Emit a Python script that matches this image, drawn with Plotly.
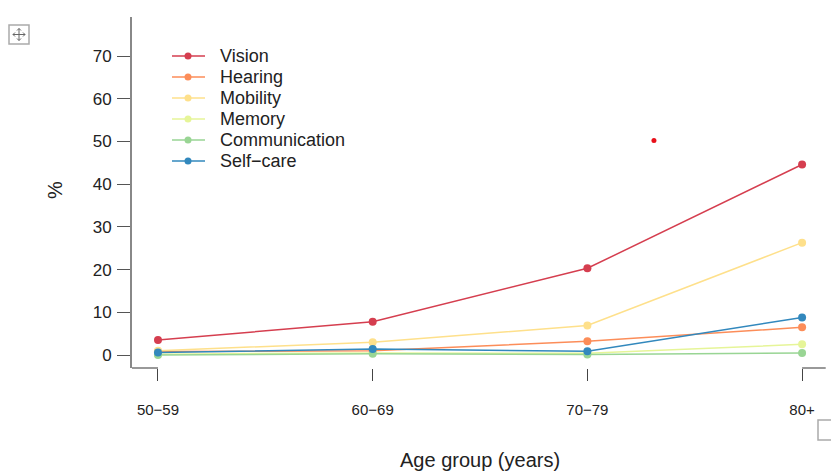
import plotly.graph_objects as go

categories = ["50\u221259", "60\u221269", "70\u221279", "80+"]
vision = [3.5, 7.8, 20.3, 44.6]
hearing = [0.8, 1.0, 3.2, 6.5]
mobility = [1.0, 3.0, 6.9, 26.3]
memory = [0.2, 0.5, 0.4, 2.5]
communication = [0.0, 0.3, 0.1, 0.5]
selfcare = [0.6, 1.4, 0.9, 8.8]
yticks = [0, 10, 20, 30, 40, 50, 60, 70]
stray_x = [2.31]
stray_y = [50.2]

series = [
    ("Vision", vision, "#d53e4f"),
    ("Hearing", hearing, "#fc8d59"),
    ("Mobility", mobility, "#fee08b"),
    ("Memory", memory, "#e6f598"),
    ("Communication", communication, "#99d594"),
    ("Self\u2212care", selfcare, "#3288bd"),
]

# plot area in pixels
L, R, T, B = 132, 830, 17, 368
W, H = R - L, B - T


def px(x):
    return (x - L) / W


def py(y):
    return (B - y) / H


xpos = list(range(len(categories)))
fig = go.Figure()
for name, vals, col in series:
    fig.add_trace(go.Scatter(x=xpos, y=vals, name=name, mode="lines+markers",
                             line=dict(color=col, width=1.5),
                             marker=dict(color=col, size=8), showlegend=False))
fig.add_trace(go.Scatter(x=stray_x, y=stray_y, mode="markers", showlegend=False,
                         marker=dict(color="#e8101a", size=5)))


def pline(x0, y0, x1, y1, col, w):
    return dict(type="line", xref="paper", yref="paper",
                x0=px(x0), x1=px(x1), y0=py(y0), y1=py(y1),
                line=dict(color=col, width=w))


shapes = [
    dict(type="line", xref="x", yref="paper", x0=-0.121, x1=0, y0=0, y1=0,
         line=dict(color="#555", width=1.2)),
    dict(type="line", xref="x", yref="paper", x0=3.0, x1=3.11, y0=0, y1=0,
         line=dict(color="#555", width=1.2)),
    dict(type="rect", xref="paper", yref="paper",
         x0=px(9), x1=px(29), y0=py(44), y1=py(25),
         line=dict(color="#aaa", width=1.5)),
    # move-icon cross with arrow tips
    pline(13, 34.5, 25, 34.5, "#666", 1),
    pline(19, 28.5, 19, 40.5, "#666", 1),
    pline(13, 34.5, 15, 32.5, "#666", 1), pline(13, 34.5, 15, 36.5, "#666", 1),
    pline(25, 34.5, 23, 32.5, "#666", 1), pline(25, 34.5, 23, 36.5, "#666", 1),
    pline(19, 28.5, 17, 30.5, "#666", 1), pline(19, 28.5, 21, 30.5, "#666", 1),
    pline(19, 40.5, 17, 38.5, "#666", 1), pline(19, 40.5, 21, 38.5, "#666", 1),
    dict(type="rect", xref="paper", yref="paper",
         x0=px(818), x1=px(834), y0=py(440), y1=py(420),
         line=dict(color="#aaa", width=1.5)),
]
annotations = [
    dict(text="%", xref="paper", yref="paper", x=px(55), y=py(190),
         xanchor="center", yanchor="middle",
         showarrow=False, textangle=-90, font=dict(size=20, color="#222")),
    dict(text="Age group (years)", xref="paper", yref="paper",
         x=px(480), y=py(460), showarrow=False, xanchor="center", yanchor="middle",
         font=dict(size=20, color="#222")),
]

# manual legend
for i, (name, vals, col) in enumerate(series):
    yy = 56 + i * 21
    shapes.append(pline(172, yy, 205, yy, col, 1.5))
    shapes.append(dict(type="circle", xref="paper", yref="paper",
                       x0=px(184.5), x1=px(191.5), y0=py(yy + 3.5), y1=py(yy - 3.5),
                       fillcolor=col, line=dict(color=col, width=0)))
    annotations.append(dict(text=name, xref="paper", yref="paper",
                            x=px(218), y=py(yy), xanchor="left", yanchor="middle",
                            showarrow=False, font=dict(size=18, color="#222")))

font = "Liberation Sans, Arial, sans-serif"
fig.update_layout(
    width=831, height=471,
    margin=dict(l=L, r=831 - R, t=T, b=471 - B),
    plot_bgcolor="white", paper_bgcolor="white",
    font=dict(family=font, size=16, color="#222"),
    showlegend=False,
    xaxis=dict(range=[-0.121, 3.13], tickvals=xpos, ticktext=categories,
               showgrid=False, zeroline=False, showline=False,
               ticks="outside", ticklen=12, tickwidth=1.2, tickcolor="#444",
               ticklabelstandoff=16, tickfont=dict(size=15)),
    yaxis=dict(range=[-3.04, 79.13], tickvals=yticks,
               showgrid=False, zeroline=False, showline=True,
               linecolor="#888", linewidth=2,
               ticks="outside", ticklen=13, tickwidth=1.2, tickcolor="#555",
               ticklabelstandoff=2, tickfont=dict(size=17)),
    shapes=shapes,
    annotations=annotations,
)
fig.write_html("out.html", config={"displayModeBar": False},
               post_script="document.body.style.margin='0';")
